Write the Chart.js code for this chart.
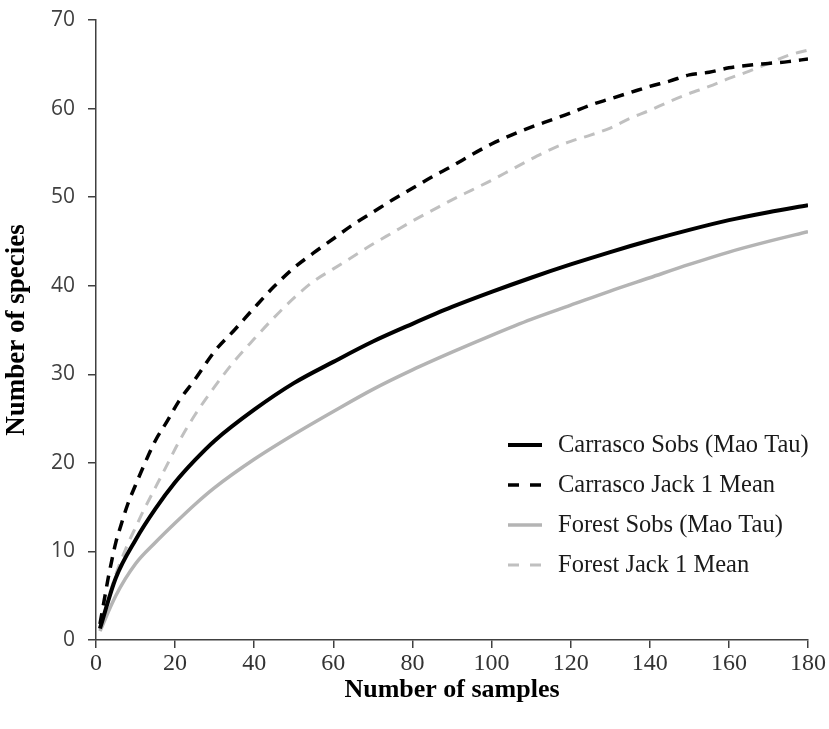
<!DOCTYPE html>
<html>
<head>
<meta charset="utf-8">
<script src="https://cdn.jsdelivr.net/npm/chart.js@4/dist/chart.umd.min.js"></script>
<style>
  html, body { margin: 0; padding: 0; background: #fff; }
  #wrap { width: 829px; height: 729px; }
</style>
</head>
<body>
<div id="wrap"><canvas id="chart" width="829" height="729"></canvas></div>
<script>
// samples (x) for the Mao Tau curves
const sobsX = [1, 5, 10, 15, 20, 25, 30, 40, 50, 60, 70, 80, 90, 100, 110, 120, 130, 140, 150, 160, 170, 180]
const carrascoSobs = [1.3, 7.0, 11.3, 14.8, 17.8, 20.3, 22.5, 26.0, 29.0, 31.4, 33.7, 35.7, 37.6, 39.3, 40.9, 42.4, 43.8, 45.1, 46.3, 47.4, 48.3, 49.1]
const forestSobs = [1.0, 5.0, 8.6, 11.0, 13.2, 15.3, 17.2, 20.4, 23.2, 25.8, 28.3, 30.5, 32.5, 34.4, 36.2, 37.8, 39.4, 40.9, 42.4, 43.8, 45.0, 46.1]

// samples (x) for the Jack 1 estimators
const jackX = [1, 2, 3, 4, 5, 6, 8, 10, 12, 15, 18, 21, 25, 30, 35, 40, 45, 50, 55, 60, 65, 70, 75, 80, 85, 90, 95, 100, 105, 110, 115, 120, 125, 130, 135, 140, 145, 150, 155, 160, 165, 170, 175, 180]
const carrascoJack = [1.8, 4.3, 6.8, 9.0, 11.0, 12.5, 15.3, 17.5, 19.6, 22.5, 24.7, 27.0, 29.4, 32.6, 35.0, 37.5, 39.9, 42.0, 43.7, 45.3, 46.9, 48.3, 49.7, 51.0, 52.3, 53.5, 54.8, 56.0, 57.0, 57.9, 58.7, 59.5, 60.4, 61.1, 61.8, 62.5, 63.1, 63.8, 64.1, 64.6, 64.9, 65.1, 65.3, 65.6]
const forestJack = [1.2, 2.8, 4.6, 6.0, 7.4, 8.6, 10.8, 12.7, 14.6, 17.2, 19.8, 22.4, 25.4, 28.6, 31.5, 34.0, 36.4, 38.6, 40.5, 41.9, 43.3, 44.7, 46.0, 47.3, 48.5, 49.7, 50.8, 51.9, 53.1, 54.3, 55.4, 56.3, 57.0, 57.8, 58.9, 59.8, 60.8, 61.7, 62.5, 63.4, 64.2, 65.1, 66.0, 66.6]

const seriesNames = ['Carrasco Sobs (Mao Tau)', 'Carrasco Jack 1 Mean', 'Forest Sobs (Mao Tau)', 'Forest Jack 1 Mean']

const toPoints = (xs, ys) => xs.map((x, i) => ({x: x, y: ys[i]}))

const serif = "'Liberation Serif', 'Times New Roman', serif"

// legend drawn inside the plot, lower right
const insideLegend = {
  id: 'insideLegend',
  afterDraw(chart) {
    const ctx = chart.ctx
    ctx.save()
    chart.data.datasets.forEach((ds, i) => {
      const y = 445 + i * 40
      ctx.beginPath()
      ctx.strokeStyle = ds.borderColor
      ctx.lineWidth = ds.borderWidth
      ctx.setLineDash(ds.borderDash ? [11, 11] : [])
      ctx.moveTo(508, y)
      ctx.lineTo(542, y)
      ctx.stroke()
      ctx.setLineDash([])
      ctx.fillStyle = '#1a1a1a'
      ctx.font = '24.5px ' + serif
      ctx.textBaseline = 'middle'
      ctx.textAlign = 'left'
      ctx.fillText(ds.label, 558, y + 1)
    })
    ctx.restore()
  }
}

new Chart(document.getElementById('chart'), {
  type: 'line',
  data: {
    datasets: [
      {
        label: seriesNames[0],
        data: toPoints(sobsX, carrascoSobs),
        borderColor: '#000000',
        borderWidth: 4,
      },
      {
        label: seriesNames[1],
        data: toPoints(jackX, carrascoJack),
        borderColor: '#000000',
        borderWidth: 3.5,
        borderDash: [11, 8],
      },
      {
        label: seriesNames[2],
        data: toPoints(sobsX, forestSobs),
        borderColor: '#b4b4b4',
        borderWidth: 3.5,
      },
      {
        label: seriesNames[3],
        data: toPoints(jackX, forestJack),
        borderColor: '#c0c0c0',
        borderWidth: 3,
        borderDash: [11, 8],
      },
    ]
  },
  options: {
    responsive: false,
    animation: false,
    events: [],
    layout: {padding: {left: 0, right: 21, top: 20, bottom: 0}},
    elements: {
      point: {radius: 0},
      line: {cubicInterpolationMode: 'monotone', fill: false}
    },
    plugins: {
      legend: {display: false},
      tooltip: {enabled: false}
    },
    scales: {
      x: {
        type: 'linear',
        min: 0,
        max: 180,
        afterFit: (s) => {
          s.height = 89
          s.paddingLeft = 0
          s.paddingRight = 0
        },
        ticks: {
          stepSize: 20,
          color: '#333',
          padding: 1,
          font: {family: serif, size: 24}
        },
        grid: {drawOnChartArea: false, drawTicks: true, tickLength: 8, color: '#404040', lineWidth: 1.5},
        border: {color: '#404040', width: 1.5},
        title: {
          display: true,
          text: 'Number of samples',
          color: '#000',
          font: {family: serif, size: 26, weight: 'bold'},
          padding: {top: 0, bottom: 23}
        }
      },
      y: {
        min: 0,
        max: 70,
        afterFit: (s) => {
          s.width = 96
          s.paddingTop = 0
          s.paddingBottom = 0
        },
        ticks: {
          stepSize: 10,
          color: '#404040',
          padding: 13,
          font: {family: "'Open Sans', 'DejaVu Sans', sans-serif", size: 21}
        },
        grid: {drawOnChartArea: false, drawTicks: true, tickLength: 8, color: '#404040', lineWidth: 1.5},
        border: {color: '#404040', width: 1.5},
        title: {
          display: true,
          text: 'Number of species',
          color: '#000',
          font: {family: serif, size: 27, weight: 'bold'},
          padding: {top: 1, bottom: 0}
        }
      }
    }
  },
  plugins: [insideLegend]
})
</script>
</body>
</html>
